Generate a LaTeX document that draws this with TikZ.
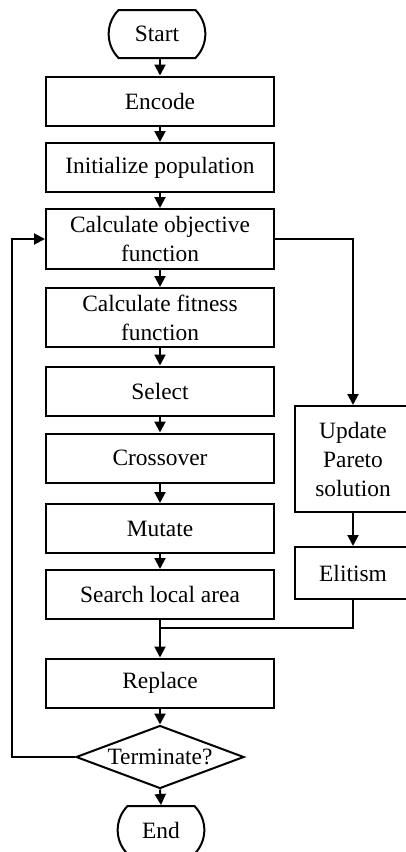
\documentclass[tikz,border=0pt]{standalone}
\usepackage{fontspec}
\setmainfont{Liberation Serif}
\usetikzlibrary{arrows.meta,shapes.geometric,shapes.misc}

\begin{document}
\begin{tikzpicture}[x=0.5pt, y=-0.5pt,
        line width=1pt,
        font=\fontsize{11.7}{14.5}\selectfont,
        >={Triangle[length=5.5pt,width=5.5pt]},
        box/.style={draw, rectangle, align=center, minimum width=114pt, minimum height=24.5pt, inner sep=2pt},
        terminal/.style={draw, rounded rectangle, rounded rectangle arc length=90, minimum height=24pt},
        decision/.style={draw, diamond, aspect=2.67, inner sep=0pt, minimum width=84pt, minimum height=31.5pt}]

        \useasboundingbox (0,0) rectangle (406,852);

        % Main column
        \node[terminal, minimum width=55pt] (start) at (157,34) {Start};
        \node[box] (encode) at (160,101) {Encode};
        \node[box] (init) at (160,167.5) {Initialize population};
        \node[box, minimum height=30pt] (objective) at (160,239) {Calculate objective\\function};
        \node[box, minimum height=29.5pt] (fitness) at (160,317.5) {Calculate fitness\\function};
        \node[box] (select) at (160,391) {Select};
        \node[box] (crossover) at (160,458) {Crossover};
        \node[box] (mutate) at (160,528.5) {Mutate};
        \node[box] (search) at (160,594.5) {Search local area};
        \node[box] (replace) at (160,683) {Replace};
        \node[decision] (terminate) at (160,757) {Terminate?};
        \node[terminal, minimum width=50pt] (finish) at (161,830) {End};

        % Pareto branch
        \node[box, minimum width=58pt, minimum height=53pt] (update) at (353,459) {Update\\Pareto\\solution};
        \node[box, minimum width=58pt, minimum height=26pt] (elitism) at (353,573) {Elitism};

        \coordinate (loop) at (12,757);
        \coordinate (join) at (160,628);

        % Connectors
        \draw[->] (start.south -| encode) -- (encode.north);
        \foreach \a/\b in {encode/init, init/objective, objective/fitness, fitness/select,
                select/crossover, crossover/mutate, mutate/search, search/replace,
                replace/terminate, terminate/finish}
            \draw[->] (\a.south) -- (\b.north);
        \draw[->] (objective.east) -| (update.north);
        \draw[->] (update.south) -- (elitism.north);
        \draw (elitism.south) |- (join);
        \draw[->] (terminate.west) -- (loop) |- (objective.west);
    \end{tikzpicture}
\end{document}
